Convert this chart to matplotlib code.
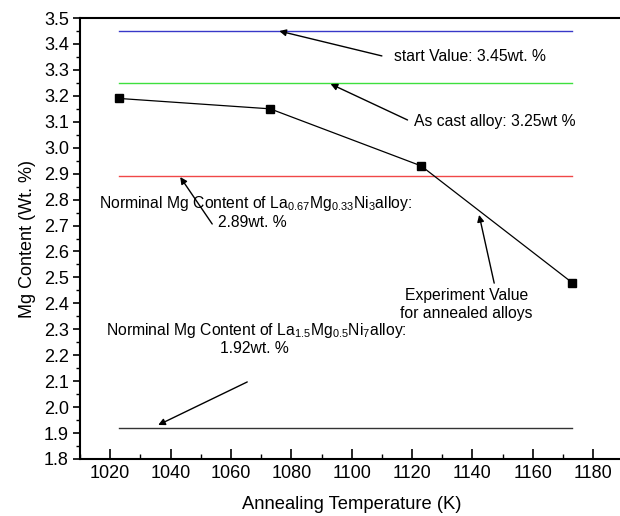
import matplotlib
matplotlib.use('Agg')
import matplotlib.pyplot as plt
from matplotlib.ticker import MultipleLocator

plt.rcParams['font.family'] = ['Liberation Sans', 'DejaVu Sans']
plt.rcParams['mathtext.default'] = 'regular'

# 実験値
temps = [1023, 1073, 1123, 1173]
mg_content = [3.19, 3.15, 2.93, 2.48]

# 基準線
ref_values = [3.45, 3.25, 2.89, 1.92]
ref_colors = ['#3838c8', '#3ee03e', '#f04848', '#333333']

fig = plt.figure(figsize=(6.2, 5.16), dpi=100)
ax = fig.add_axes([0.129, 0.1105, 0.8765, 0.8545])

for v, c in zip(ref_values, ref_colors):
    ax.plot([temps[0], temps[-1]], [v, v], color=c, lw=1.0)

ax.plot(temps, mg_content, color='black', lw=0.9, marker='s', ms=5.5)

ax.set_xlim(1010, 1190)
ax.set_ylim(1.8, 3.5)
ax.xaxis.set_major_locator(MultipleLocator(20))
ax.xaxis.set_minor_locator(MultipleLocator(10))
ax.yaxis.set_major_locator(MultipleLocator(0.1))
ax.yaxis.set_minor_locator(MultipleLocator(0.05))
ax.tick_params(axis='x', which='both', direction='in', labelsize=13, pad=4)
ax.tick_params(axis='x', which='major', length=7, width=1.2)
ax.tick_params(axis='x', which='minor', length=3.5, width=1.0)
ax.tick_params(axis='y', which='both', direction='out', labelsize=13, pad=3)
ax.tick_params(axis='y', which='major', length=5, width=1.2)
ax.tick_params(axis='y', which='minor', length=3, width=1.0)
for s in ax.spines.values():
    s.set_linewidth(1.5)
ax.spines['right'].set_visible(False)

ax.set_xlabel('Annealing Temperature (K)', fontsize=13.2, labelpad=10.5)
ax.set_ylabel('Mg Content (Wt. %)', fontsize=13, labelpad=6)

arrow = dict(arrowstyle='-|>', color='black', lw=1.0, mutation_scale=10,
             shrinkA=0, shrinkB=0)
fs = 11.3
ax.annotate('', xy=(1076, 3.45), xytext=(1110, 3.354), arrowprops=arrow)
ax.text(1114, 3.335, 'start Value: 3.45wt. %', ha='left', va='baseline', fontsize=fs)
ax.annotate('', xy=(1093, 3.246), xytext=(1118.5, 3.107), arrowprops=arrow)
ax.text(1120.7, 3.085, 'As cast alloy: 3.25wt %', ha='left', va='baseline', fontsize=fs)

ax.annotate('', xy=(1043.2, 2.887), xytext=(1053.8, 2.706), arrowprops=arrow)
ax.text(1016.4, 2.7675, 'Norminal Mg Content of La$_{0.67}$Mg$_{0.33}$Ni$_3$alloy:',
        ha='left', va='baseline', fontsize=fs)
ax.text(1067, 2.6955, '2.89wt. %', ha='center', va='baseline', fontsize=fs)

ax.annotate('', xy=(1142.2, 2.741), xytext=(1147.2, 2.478), arrowprops=arrow)
ax.text(1138.1, 2.413, 'Experiment Value', ha='center', va='baseline', fontsize=fs)
ax.text(1138.1, 2.342, 'for annealed alloys', ha='center', va='baseline', fontsize=fs)

ax.text(1018.7, 2.278, 'Norminal Mg Content of La$_{1.5}$Mg$_{0.5}$Ni$_7$alloy:',
        ha='left', va='baseline', fontsize=fs)
ax.text(1067.7, 2.2086, '1.92wt. %', ha='center', va='baseline', fontsize=fs)
ax.annotate('', xy=(1035.9, 1.931), xytext=(1065.4, 2.097), arrowprops=arrow)

fig.savefig('out.png', dpi=100)
